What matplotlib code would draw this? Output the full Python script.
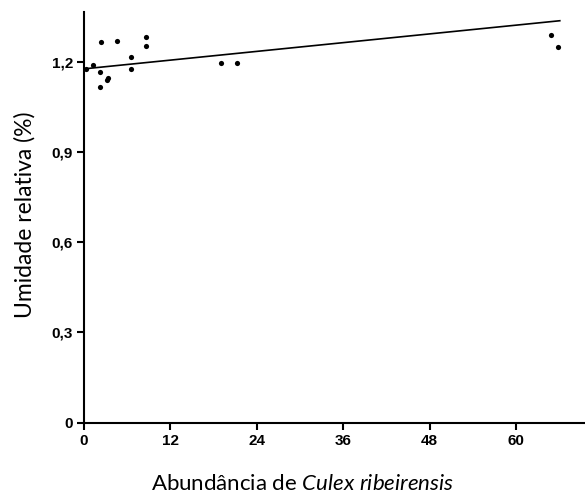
import matplotlib
matplotlib.use("Agg")
import matplotlib.pyplot as plt
import numpy as np

# Data
abundance = [0.3, 1.2, 2.2, 2.2, 2.3, 3.2, 3.4, 4.6, 6.5, 6.5, 8.6, 8.6, 19.0, 21.2, 64.9, 65.9]
humidity = [1.175, 1.189, 1.167, 1.115, 1.266, 1.139, 1.145, 1.268, 1.215, 1.176, 1.281, 1.252, 1.195, 1.197, 1.289, 1.248]
fit_intercept = 1.176
fit_slope = 0.00242
fit_x_range = [0.0, 66.1]
x_ticks = [0, 12, 24, 36, 48, 60]
y_ticks = [0, 0.3, 0.6, 0.9, 1.2]
y_tick_labels = ["0", "0,3", "0,6", "0,9", "1,2"]

plt.rcParams["mathtext.fontset"] = "custom"
plt.rcParams["mathtext.rm"] = "Lato"
plt.rcParams["mathtext.it"] = "Lato:italic"

fig = plt.figure(figsize=(5.85, 4.95), dpi=100)
ax = fig.add_axes([84/585, (495-422.7)/495, 1 - 84/585, (422.7-12)/495])

ax.scatter(abundance, humidity, s=14, color="black", zorder=3, linewidths=0)
fx = np.array(fit_x_range)
ax.plot(fx, fit_intercept + fit_slope * fx, color="black", lw=1.2, zorder=2)

ax.set_xlim(0, 69.6)
ax.set_ylim(0, 1.365)
ax.set_xticks(x_ticks)
ax.set_yticks(y_ticks)
ax.set_yticklabels(y_tick_labels)

for s in ["top", "right"]:
    ax.spines[s].set_visible(False)
for s in ["left", "bottom"]:
    ax.spines[s].set_linewidth(1.5)
    ax.spines[s].set_color("black")

ax.tick_params(axis="both", direction="out", length=5, width=1.5, colors="black", pad=3)
for lbl in ax.get_xticklabels() + ax.get_yticklabels():
    lbl.set_fontfamily("Liberation Sans")
    lbl.set_fontweight("bold")
    lbl.set_fontsize(11)

fig.text(303/585, 1 - 484/495, r"Abundância de $\mathit{Culex\ ribeirensis}$",
         ha="center", va="center", fontsize=16, family="Lato")
fig.text(25/585, 1 - 215/495, "Umidade relativa (%)", rotation=90,
         ha="center", va="center", fontsize=16.5, family="Lato")

fig.savefig("out.png", dpi=100)
